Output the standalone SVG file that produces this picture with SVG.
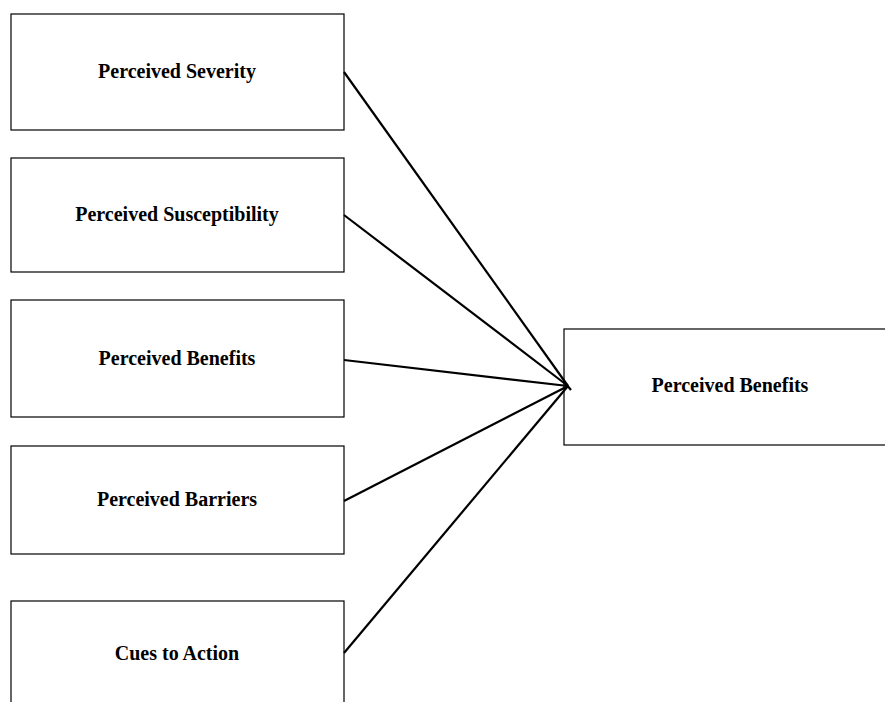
<svg xmlns="http://www.w3.org/2000/svg" width="885" height="702" viewBox="0 0 885 702">
<style>
.box{fill:#fff;stroke:#000;stroke-width:1.2}
.lbl{font-family:"Liberation Serif","Times New Roman",serif;font-weight:bold;font-size:20px;text-anchor:middle;fill:#000}
.con{stroke:#000;stroke-width:2.2;fill:none}
</style>
<rect width="885" height="702" fill="#fff"/>
<g id="n1"><rect class="box" x="11" y="14" width="333" height="116"/><text class="lbl" x="177" y="78">Perceived Severity</text></g>
<g id="n2"><rect class="box" x="11" y="158" width="333" height="114"/><text class="lbl" x="177" y="221">Perceived Susceptibility</text></g>
<g id="n3"><rect class="box" x="11" y="300" width="333" height="117"/><text class="lbl" x="177" y="365">Perceived Benefits</text></g>
<g id="n4"><rect class="box" x="11" y="446" width="333" height="108"/><text class="lbl" x="177" y="506">Perceived Barriers</text></g>
<g id="n5"><rect class="box" x="11" y="601" width="333" height="120"/><text class="lbl" x="177" y="660">Cues to Action</text></g>
<g id="n6"><rect class="box" x="564" y="329" width="340" height="116"/><text class="lbl" x="730" y="392">Perceived Benefits</text></g>
<g id="connectors">
<line class="con" x1="344" y1="72" x2="568" y2="386"/>
<line class="con" x1="344" y1="215" x2="568" y2="386"/>
<line class="con" x1="344" y1="360" x2="568" y2="386"/>
<line class="con" x1="344" y1="501" x2="568" y2="386"/>
<line class="con" x1="344" y1="653" x2="568" y2="386"/>
<path d="M566 384 L571 390" class="con"/>
</g>
</svg>
